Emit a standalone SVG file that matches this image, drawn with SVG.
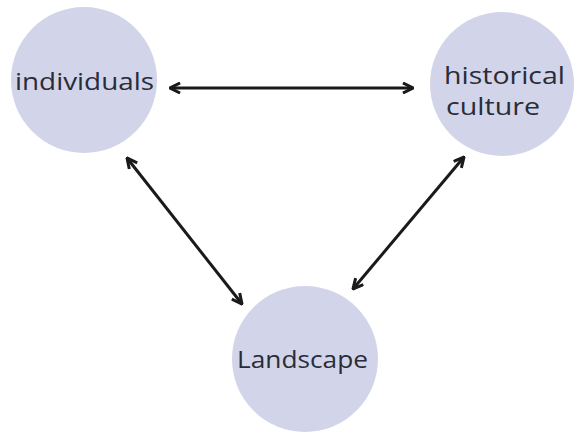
<svg xmlns="http://www.w3.org/2000/svg" width="574" height="434" viewBox="0 0 574 434">
<style>
.node circle{fill:#d2d4ea;}
.node text{font-family:"Open Sans","DejaVu Sans",sans-serif;font-size:24px;font-weight:500;fill:#2a2c38;}
.conn line{stroke:#1a1a1a;stroke-width:3;fill:none;}
</style>
<defs>
<marker id="ah" viewBox="0 0 10 10" refX="9" refY="5" markerWidth="4.2" markerHeight="4.2" orient="auto-start-reverse" markerUnits="strokeWidth">
<path d="M1,1 L9,5 L1,9" fill="none" stroke="#1a1a1a" stroke-width="2.4" stroke-linejoin="miter"/>
</marker>
</defs>
<rect width="574" height="434" fill="#ffffff"/>
<g id="individuals" class="node">
<circle cx="84" cy="80" r="73"/>
<text x="15" y="90" textLength="139" lengthAdjust="spacingAndGlyphs">individuals</text>
</g>
<g id="historical-culture" class="node">
<circle cx="502" cy="84" r="72"/>
<text x="444" y="84" textLength="121" lengthAdjust="spacingAndGlyphs">historical</text>
<text x="446" y="115" textLength="94" lengthAdjust="spacingAndGlyphs">culture</text>
</g>
<g id="landscape" class="node">
<circle cx="305" cy="359" r="73"/>
<text x="237" y="368" textLength="131" lengthAdjust="spacingAndGlyphs">Landscape</text>
</g>
<g id="connectors" class="conn">
<line x1="170" y1="88" x2="413" y2="88" marker-start="url(#ah)" marker-end="url(#ah)"/>
<line x1="127" y1="158" x2="242" y2="304" marker-start="url(#ah)" marker-end="url(#ah)"/>
<line x1="464" y1="157" x2="353" y2="289" marker-start="url(#ah)" marker-end="url(#ah)"/>
</g>
</svg>
